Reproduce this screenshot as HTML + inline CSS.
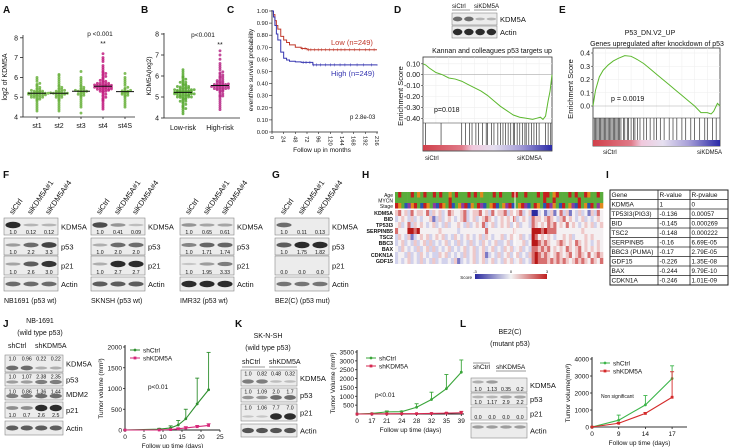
<!DOCTYPE html>
<html><head><meta charset="utf-8">
<style>
html,body{margin:0;padding:0;background:#fff;}
svg{display:block;font-family:"Liberation Sans",Arial,sans-serif;}
</style></head>
<body>
<svg id="fig" width="738" height="448" viewBox="0 0 738 448" xmlns="http://www.w3.org/2000/svg">
<defs>
<linearGradient id="gsea" x1="0" x2="1" y1="0" y2="0">
<stop offset="0" stop-color="#d0404a"/><stop offset="0.3" stop-color="#e07a88"/><stop offset="0.38" stop-color="#f0c8dc"/><stop offset="0.55" stop-color="#e6e0f0"/><stop offset="0.75" stop-color="#a8a0d8"/><stop offset="1" stop-color="#2a2aa8"/>
</linearGradient>
<linearGradient id="score" x1="0" x2="1" y1="0" y2="0">
<stop offset="0" stop-color="#2b2ba0"/><stop offset="0.5" stop-color="#f2f2f2"/><stop offset="1" stop-color="#c02020"/>
</linearGradient>
</defs>
</svg>
<script>
// ---------- DATA ----------
const aCats = ['st1','st2','st3','st4','st4S'];
const aSt1 = [5.2,5.1,5.3,5.0,5.2,5.4,4.9,5.1,5.3,5.2,5.5,4.8,5.6,5.0,5.2,5.1,4.7,5.7,5.3,5.4,4.6,5.8,5.2,5.0,4.9,5.9,4.5,5.1,5.3,6.0,4.4,5.2,5.15,5.25,5.05,5.35,4.95,5.45,4.85,5.55,5.2,5.1,4.3,5.65,5.0,5.12,5.28,5.18];
const aSt2 = [5.2,5.3,5.1,5.0,5.2,5.4,4.9,5.3,5.5,5.2,4.8,5.6,5.1,5.7,4.7,5.2,5.8,4.6,5.3,5.9,4.5,6.0,5.0,5.4,4.4,6.1,4.3,5.2,5.1,5.25,5.35,5.05,4.95,5.45,5.15,6.15,4.85,5.55,5.22,5.18];
const aSt3 = [5.3,5.2,5.4,5.1,5.3,5.5,5.0,5.6,4.9,5.7,5.2,4.8,5.8,5.3,4.7,5.9,5.1,6.0,4.6,6.3,4.2,5.35,5.25,5.45,5.15,4.5,5.4,5.05,5.55,5.3];
const aSt4 = [5.5,5.6,5.4,5.7,5.5,5.3,5.8,5.6,5.2,5.9,5.5,5.4,6.0,5.1,5.6,6.1,5.0,5.7,6.2,4.9,5.5,6.3,4.8,5.6,6.4,4.7,5.4,6.5,4.6,5.8,6.6,4.5,5.3,6.8,4.4,5.55,5.65,5.45,5.75,5.35,5.85,5.25,5.95,5.15,6.05,5.05,6.15,4.95,6.25,4.85,5.5,5.6,5.4,5.7,5.3,6.9,7.0,7.2,5.52,5.58,5.48,5.62,5.42,5.68,5.38];
const aSt4S = [5.2,5.3,5.1,5.25,5.4,5.0,5.5,4.9,5.6,5.2,4.8,5.7,5.3,4.7,5.8,5.1,4.6,5.9,5.35,4.5,6.0,5.15,6.2,5.45,5.05,5.22,5.28,5.32];
const bCats = ['Low-risk','High-risk'];
const bLow = [5.2,5.3,5.1,5.25,5.35,5.15,5.4,5.0,5.45,5.05,5.2,5.3,5.1,5.5,4.9,5.55,4.95,5.6,4.85,5.2,5.3,5.1,5.65,4.8,5.7,4.75,5.2,5.35,5.15,5.25,5.75,4.7,5.8,4.65,5.4,5.0,5.85,4.6,5.9,4.55,5.2,5.3,5.1,5.45,5.05,5.95,4.5,6.0,4.45,5.25,5.35,5.15,6.1,4.4,6.2,4.3,5.22,5.28,5.18,6.3,4.2,5.5,5.0,5.55,4.95,5.24,5.26,5.32,5.12,5.38,5.08,5.42,5.02,5.48,4.98,5.6,4.9,5.7,4.8];
const bHigh = [5.5,5.6,5.4,5.55,5.45,5.65,5.35,5.7,5.3,5.75,5.25,5.5,5.6,5.4,5.8,5.2,5.85,5.15,5.9,5.1,5.5,5.6,5.4,5.95,5.05,6.0,5.0,6.1,4.9,5.55,5.45,6.2,4.8,6.3,4.7,6.4,4.6,6.5,4.5,5.5,5.6,5.4,6.6,4.4,6.8,7.0,7.2,5.52,5.58,5.48,5.62,5.42,5.68,5.38,5.72,5.32,5.78,5.28,6.05,5.95,6.15,5.05];

const kmLowT = [0,3,6,9,12,18,24,30,36,48,60,72,216];
const kmLowS = [1,0.97,0.92,0.88,0.85,0.79,0.76,0.74,0.72,0.70,0.69,0.68,0.68];
const kmHighT = [0,3,6,9,12,18,24,30,36,48,60,84,216];
const kmHighS = [1,0.95,0.88,0.81,0.76,0.66,0.61,0.595,0.585,0.58,0.575,0.555,0.55];
const kmLowCensor = [62,68,75,80,88,95,102,110,118,126,135,142,150,160,170,180,192,200,210];
const kmHighCensor = [64,70,78,85,92,100,110,120,128,140,150,162,175,188,205];
const kmTicks = [0,24,48,72,96,120,144,168,192,216];

const dX = [0,0.02,0.05,0.1,0.15,0.2,0.25,0.3,0.35,0.4,0.45,0.5,0.55,0.6,0.65,0.7,0.75,0.8,0.85,0.88,0.91,0.93,0.95,0.97,0.985,1.0];
const dES = [0.10,0.09,0.06,0.02,0.0,-0.03,-0.04,-0.06,-0.09,-0.12,-0.15,-0.19,-0.24,-0.29,-0.33,-0.37,-0.39,-0.40,-0.41,-0.40,-0.39,-0.41,-0.38,-0.24,-0.15,0.0];
const dHits = [0.02,0.14,0.3,0.33,0.36,0.38,0.41,0.43,0.46,0.49,0.5,0.53,0.55,0.58,0.6,0.62,0.64,0.66,0.68,0.7,0.71,0.73,0.75,0.77,0.79,0.8,0.82,0.84,0.86,0.88,0.9,0.95,0.97,0.99];
const eX = [0,0.02,0.05,0.08,0.12,0.16,0.2,0.25,0.3,0.35,0.4,0.45,0.5,0.55,0.6,0.65,0.7,0.75,0.8,0.85,0.9,0.93,0.95,0.97,0.98,1.0];
const eES = [0,0.12,0.22,0.27,0.31,0.34,0.36,0.38,0.375,0.35,0.32,0.28,0.24,0.2,0.16,0.12,0.08,0.04,0.0,-0.05,-0.05,-0.06,-0.04,0.0,0.02,0.0];
const eHits = [0.01,0.02,0.03,0.04,0.05,0.06,0.07,0.08,0.09,0.1,0.11,0.12,0.13,0.14,0.15,0.16,0.17,0.18,0.19,0.2,0.21,0.22,0.24,0.25,0.27,0.28,0.3,0.32,0.33,0.35,0.37,0.4,0.42,0.45,0.48,0.5,0.53,0.56,0.6,0.63,0.66,0.7,0.73,0.77,0.8,0.84,0.88,0.9,0.94,0.97];

const hmGenes = ['KDM5A','BID','TP53I3','SERPINB5','TSC2','BBC3','BAX','CDKN1A','GDF15'];
const hmRows = [
"4534253443524342354334523445342534452434523400231241352413242314253",
"2343242323341242343234523423454323434352343254434543245343234232343",
"3423524343234232423343242343523423434234233254343545343534323434234",
"5333665633333343333323333333353333333343333366656555333333334333333",
"2432412343423434232432343234243233423433423265343432334342333434333",
"2342324234242323423242324232432342234233342366545433454343543432343",
"3243232423424232342323423423423423243423423255454534343543453434343",
"2332423243232243423232423423412324234234232456545434543453454353454",
"2323423242324232232412323423423423243423423256555454545434545435435"];
const hmAge   = "grgggrgogrggrgrggogrgggrgrgogggrgrgggrrggrgggrgrrgorgggrgrggroggrg";
const hmMycn  = "gggggggggggggggggrgggggggggggggggggggggggggggggrggrgggggggrggggggg";
const hmStage = "rogbporgbrogpbrogrbgoprbogrpbgorbgoprbgorpbgrogbrpogbrgopbrgobrgpo";
const tblHead = ['Gene','R-value','R-pvalue'];
const tblGene = ['KDM5A','TP53I3(PIG3)','BID','TSC2','SERPINB5','BBC3 (PUMA)','GDF15','BAX','CDKN1A'];
const tblR = ['1','-0.136','-0.145','-0.148','-0.16','-0.17','-0.226','-0.244','-0.246'];
const tblP = ['0','0.00057','0.000269','0.000222','6.69E-05','2.79E-05','1.35E-08','9.79E-10','1.01E-09'];

const jDays = [0,9,12,14,16,19,22];
const jCtrl = [0,20,50,120,270,630,970];
const jCtrlErr = [0,40,100,230,500,1250,1870];
const jKd = [0,0,10,30,50,80,110];
const jKdErr = [0,0,20,50,80,110,150];
const kDays = ['0','17','21','24','28','32','35','39'];
const kCtrl = [0,30,120,130,380,820,1430,2360];
const kCtrlErr = [0,50,170,170,580,1230,2230,3050];
const kKd = [0,5,10,15,20,30,50,70];
const kKdErr = [0,10,20,25,30,50,80,150];
const lDays = ['0','9','14','17'];
const lCtrl = [0,400,1300,2850];
const lCtrlErr = [0,700,1850,3600];
const lKd = [0,220,800,1750];
const lKdErr = [0,260,850,3250];

// ---------- HELPERS ----------
const NS='http://www.w3.org/2000/svg';
const svg=document.getElementById('fig');
function mk(tag,a,p,name){
  const e=document.createElementNS(NS,tag);
  for(const k in a) e.setAttribute(k,a[k]);
  
  
  (p||svg).appendChild(e); return e;
}
function T(x,y,s,size,name,o){
  o=o||{};
  const a={x:x,y:y,'font-size':size,fill:o.fill||'#111'};
  if(o.anchor) a['text-anchor']=o.anchor;
  if(o.bold) a['font-weight']='bold';
  if(o.rot!==undefined) a.transform='rotate('+o.rot+' '+x+' '+y+')';
  const e=mk('text',a,o.p,name); e.textContent=s; return e;
}
function L(x1,y1,x2,y2,st,w,name,p){return mk('line',{x1:x1,y1:y1,x2:x2,y2:y2,stroke:st,'stroke-width':w},p,name);}
function R(x,y,w,h,f,name,o){o=o||{};const a={x:x,y:y,width:w,height:h,fill:f};if(o.st){a.stroke=o.st;a['stroke-width']=o.sw||0.6;}return mk('rect',a,o.p,name);}

[['A',3,13],['B',141,13],['C',227,13],['D',394,13],['E',559,13],['F',3,178],['G',272,178],['H',362,178],['I',606,178],['J',3,327],['K',235,327],['L',460,327]].forEach(l=>{
  T(l[1],l[2],l[0],10,'panel-label-'+l[0].toLowerCase(),{bold:true});
});

// ---------- BEESWARM ----------
function swarm(vals,cx,yS,color,name){
  const g=mk('g',{},svg,name);
  const bins={};
  vals.slice().sort((a,b)=>a-b).forEach(v=>{
    const b=Math.round((v-4)/0.07); bins[b]=(bins[b]||0)+1; const k=bins[b]-1;
    const off=(k%2?1:-1)*Math.ceil(k/2)*2.8;
    mk('circle',{cx:cx+off,cy:yS(v),r:1.45,fill:color,'fill-opacity':0.85},g,'data-dot');
  });
  const s=vals.slice().sort((a,b)=>a-b); const med=s[Math.floor(s.length/2)];
  L(cx-9,yS(med),cx+9,yS(med),'#111',1,'median-line',g);
}
const yA=v=>117-(v-4)*19.8;
const xA=i=>37+i*22;
L(23,35,23,117,'#222',0.8,'a-y-axis');L(23,117,135,117,'#222',0.8,'a-x-axis');
[4,5,6,7,8].forEach(v=>{L(20,yA(v),23,yA(v),'#222',0.8,'a-y-tick');T(18,yA(v)+2.5,String(v),7,'a-y-tick-label',{anchor:'end'});});
T(7,77,'log2 of KDM5A',7,'a-y-axis-title',{anchor:'middle',rot:-90});
const aVals=[aSt1,aSt2,aSt3,aSt4,aSt4S];
aCats.forEach((c,i)=>{swarm(aVals[i],xA(i),yA,i===3?'#c21f80':'#6cb33f','a-group-'+c);L(xA(i),117,xA(i),119,'#222',0.8,'a-x-tick');T(xA(i),128,c,7,'a-x-label',{anchor:'middle'});});
T(100,36,'p <0.001',6.5,'a-pvalue',{anchor:'middle'});T(103,46,'**',7,'a-significance',{anchor:'middle'});
const yB=v=>118-(v-4)*21;
const xB=i=>183+i*37;
L(164,33,164,118,'#222',0.8,'b-y-axis');L(164,118,240,118,'#222',0.8,'b-x-axis');
[4,5,6,7,8].forEach(v=>{L(161,yB(v),164,yB(v),'#222',0.8,'b-y-tick');T(159,yB(v)+2.5,String(v),7,'b-y-tick-label',{anchor:'end'});});
T(151,76,'KDM5A(log2)',6.5,'b-y-axis-title',{anchor:'middle',rot:-90});
[bLow,bHigh].forEach((vals,i)=>{swarm(vals,xB(i),yB,i?'#b82c88':'#5aaa34','b-group-'+bCats[i]);T(xB(i),130,bCats[i],7,'b-x-label',{anchor:'middle'});});
T(203,37,'p<0.001',6.5,'b-pvalue',{anchor:'middle'});T(220,47,'**',7,'b-significance',{anchor:'middle'});

// ---------- KM ----------
const xC=m=>272+m*(105/216);
const yC=s=>132-s*121;
L(272,10,272,132,'#222',0.8,'c-y-axis');L(272,132,378,132,'#222',0.8,'c-x-axis');
for(let i=0;i<=10;i++){const v=i/10;L(269,yC(v),272,yC(v),'#222',0.6,'c-y-tick');T(268,yC(v)+2,v.toFixed(2),5.8,'c-y-tick-label',{anchor:'end'});}
kmTicks.forEach(m=>{L(xC(m),132,xC(m),134,'#222',0.6,'c-x-tick');T(xC(m)-2,136,String(m),5.8,'c-x-tick-label',{rot:90});});
T(322,152,'Follow up in months',6.5,'c-x-axis-title',{anchor:'middle'});
T(253,70,'eventfree survival probability',6.5,'c-y-axis-title',{anchor:'middle',rot:-90});
function km(t,s,cens,col,name){
  let d='M'+xC(t[0])+','+yC(s[0]);
  for(let i=1;i<t.length;i++){d+=' H'+xC(t[i])+' V'+yC(s[i]);}
  mk('path',{d:d,fill:'none',stroke:col,'stroke-width':1},svg,name);
  const last=s[s.length-1];
  cens.forEach(c=>{let v=last;for(let i=0;i<t.length;i++){if(t[i]<=c)v=s[i];}L(xC(c),yC(v)-1.5,xC(c),yC(v)+1.5,col,0.5,'censor-mark');});
}
km(kmLowT,kmLowS,kmLowCensor,'#c0392b','km-low-curve');
km(kmHighT,kmHighS,kmHighCensor,'#3535b0','km-high-curve');
T(331,45,'Low (n=249)',7.5,'legend-low',{fill:'#c0392b'});
T(331,76,'High (n=249)',7.5,'legend-high',{fill:'#3535b0'});
T(350,119,'p 2.8e-03',6,'c-pvalue');

// ---------- GSEA ----------
function gsea(cfg){
  const g=mk('g',{},svg,cfg.name);
  R(cfg.x0,cfg.yT,cfg.x1-cfg.x0,cfg.yB-cfg.yT,'#fff',cfg.name+'-box',{st:'#333',sw:0.8,p:g});
  for(let i=1;i<10;i++){L(cfg.x0+i*(cfg.x1-cfg.x0)/10,cfg.yT,cfg.x0+i*(cfg.x1-cfg.x0)/10,cfg.yP,'#eee',0.5,'grid-line',g);}
  cfg.ticks.forEach(v=>{L(cfg.x0,cfg.y(v),cfg.x1,cfg.y(v),v===0?'#aaa':'#eee',0.6,'grid-line',g);L(cfg.x0-2,cfg.y(v),cfg.x0,cfg.y(v),'#333',0.6,'y-tick',g);T(cfg.x0-3,cfg.y(v)+2.5,cfg.fmt(v),7,'y-tick-label',{anchor:'end',p:g});});
  L(cfg.x0,cfg.yP,cfg.x1,cfg.yP,'#333',0.6,'plot-divider',g);
  const xs=f=>cfg.x0+f*(cfg.x1-cfg.x0);
  mk('polyline',{points:cfg.xv.map((f,i)=>xs(f)+','+cfg.y(cfg.es[i])).join(' '),fill:'none',stroke:'#5cb82e','stroke-width':1},g,'enrichment-curve');
  cfg.hits.forEach(h=>L(xs(h),cfg.yP,xs(h),cfg.hB,'#333',0.7,'hit-bar',g));
  R(cfg.x0,cfg.cT,cfg.x1-cfg.x0,cfg.cH,'url(#gsea)','rank-color-bar',{p:g});
  T(cfg.x0-20,(cfg.yT+cfg.yP)/2+6,'Enrichment Score',7.5,'y-axis-title',{anchor:'middle',rot:-90,p:g});
}
gsea({name:'gsea-d',x0:423,x1:552,yT:57,yP:123,yB:151,hB:145,cT:145,cH:5.5,xv:dX,es:dES,hits:dHits,
  y:v=>74.7-v*109,ticks:[0.1,0,-0.1,-0.2,-0.3,-0.4],fmt:v=>v.toFixed(2)});
T(492,53,'Kannan and colleagues p53 targets up',7,'gsea-d-title',{anchor:'middle'});
T(434,112,'p=0.018',7,'gsea-d-pvalue');
T(425,160,'siCtrl',6,'gsea-d-left-label');T(517,160,'siKDM5A',6,'gsea-d-right-label');
gsea({name:'gsea-e',x0:593,x1:720,yT:48,yP:118,yB:146,hB:140,cT:140,cH:6,xv:eX,es:eES,hits:eHits,
  y:v=>106-v*132.5,ticks:[0.4,0.3,0.2,0.1,0],fmt:v=>v.toFixed(1)});
T(650,35,'P53_DN.V2_UP',7,'gsea-e-title',{anchor:'middle'});
T(657,46,'Genes upregulated after knockdown of p53',7,'gsea-e-subtitle',{anchor:'middle'});
T(611,101,'p = 0.0019',7,'gsea-e-pvalue');
T(603,154,'siCtrl',6,'gsea-e-left-label');T(697,154,'siKDM5A',6,'gsea-e-right-label');

// ---------- BLOTS ----------
function blot(cfg){
  const g=mk('g',{},svg,cfg.name);
  const n=cfg.lanes; const w=cfg.x1-cfg.x0;
  cfg.rows.forEach((r,ri)=>{
    R(cfg.x0,r[0],w,r[1]-r[0],'#ececec',r[2]+'-blot-box',{st:'#888',sw:0.6,p:g});
    const inten=cfg.inten[ri];
    for(let l=0;l<n;l++){
      const cx=cfg.x0+w*(l+0.5)/n; const iv=inten[l];
      if(iv>0){mk('ellipse',{cx:cx,cy:cfg.bandY?cfg.bandY(r,ri):(r[0]+r[1])/2-(cfg.nums[ri]?1.5:0),rx:w/n*0.42,ry:1+iv*2.2,fill:'#222','fill-opacity':0.15+iv*0.8},g,'band');}
      if(cfg.nums[ri]) T(cx,cfg.numAbove&&cfg.numAbove[ri]?r[0]+5.5:r[1]-1,cfg.nums[ri][l],5.2,'band-quant',{anchor:'middle',p:g});
    }
    T(cfg.x1+3,(r[0]+r[1])/2+3,r[2],7.5,r[2]+'-label',{p:g});
  });
}
const fRows=[[218,235,'KDM5A'],[238,255,'p53'],[256,275,'p21'],[277,291,'Actin']];
const fBlots=[
 {x:4,lab:'NB1691 (p53 wt)',inten:[[1,0.15,0.15],[0.3,0.6,0.85],[0.25,0.7,0.95],[0.6,0.6,0.6]],nums:[['1.0','0.12','0.12'],['1.0','2.2','3.3'],['1.0','2.6','3.0'],null]},
 {x:91,lab:'SKNSH (p53 wt)',inten:[[0.8,0.35,0.1],[0.2,0.6,0.6],[0.2,1,1],[0.7,0.7,0.7]],nums:[['1.0','0.41','0.09'],['1.0','2.0','2.0'],['1.0','2.7','2.7'],null]},
 {x:180,lab:'IMR32 (p53 wt)',inten:[[0.35,0.25,0.25],[0.45,0.65,0.65],[0.05,0.3,0.5],[1,1,1]],nums:[['1.0','0.65','0.61'],['1.0','1.71','1.74'],['1.0','1.95','3.33'],null]},
 {x:275,lab:'BE2(C) (p53 mut)',inten:[[0.6,0,0],[0.7,1,1],[0,0,0],[0.55,0.55,0.55]],nums:[['1.0','0.11','0.13'],['1.0','1.75','1.82'],['0.0','0.0','0.0'],null]}
];
fBlots.forEach((b,bi)=>{
  blot({name:'western-blot-f'+(bi+1),x0:b.x,x1:b.x+54,lanes:3,rows:fRows,inten:b.inten,nums:b.nums});
  ['siCtrl','siKDM5A#1','siKDM5A#4'].forEach((s,l)=>T(b.x+9+l*18,215,s,7.5,'lane-header',{rot:-55}));
  T(b.x,303,b.lab,7,'cell-line-label');
});
blot({name:'western-blot-d',x0:452,x1:497,lanes:4,rows:[[13,25,'KDM5A'],[26,38,'Actin']],inten:[[0.6,0.6,0.15,0.15],[1,1,1,1]],nums:[null,null]});
T(452,8,'siCtrl',6,'blot-d-header-ctrl');T(474,8,'siKDM5A',6,'blot-d-header-kd');
L(452,10,470,10,'#333',0.6,'header-line');L(474,10,497,10,'#333',0.6,'header-line');

// ---------- HEATMAP ----------
const hmX0=395,hmX1=603;
const colMap={g:'#5aac3c',r:'#c41e1e',o:'#e08a1e',p:'#8a3ca0',b:'#2a55b0'};
const blueRed=['#2b2ba0','#7a7ac6','#d2d2ec','#f4f0f2','#efc8c8','#d87070','#b81818'];
function annot(str,y,h,name,label){
  const g=mk('g',{},svg,name); const cw=(hmX1-hmX0)/str.length;
  for(let i=0;i<str.length;i++) R(hmX0+i*cw,y,cw+0.3,h,colMap[str[i]],'annot-cell',{p:g});
  T(hmX0-2,y+h-0.5,label,5,name+'-label',{anchor:'end'});
}
annot(hmAge,192,5.5,'annotation-age','Age');
annot(hmMycn,197.5,5.5,'annotation-mycn','MYCN');
annot(hmStage,203,5.5,'annotation-stage','Stage');
hmRows.forEach((row,ri)=>{
  const g=mk('g',{},svg,'heatmap-row-'+hmGenes[ri]); const cw=(hmX1-hmX0)/row.length; const y=210+ri*6;
  for(let i=0;i<row.length;i++) R(hmX0+i*cw,y,cw+0.3,6,blueRed[+row[i]],'heatmap-cell',{p:g});
  T(hmX0-2,y+5,hmGenes[ri],5.3,'heatmap-gene-label',{anchor:'end',bold:true});
});
L(515,192,515,264,'#fff',1,'heatmap-split');
R(475,274,72,5,'url(#score)','score-colorbar');
T(472,279,'Score',4.5,'score-label',{anchor:'end'});
T(475,273,'-3',4,'score-min',{anchor:'middle'});T(511,273,'0',4,'score-mid',{anchor:'middle'});T(547,273,'3',4,'score-max',{anchor:'middle'});

// ---------- TABLE ----------
(function(){
  const g=mk('g',{},svg,'correlation-table');
  const x0=610,x1=728,y0=190,rh=9.5,c1=658,c2=690;
  const nr=tblGene.length+1;
  R(x0,y0,x1-x0,rh*nr,'#fff','table-frame',{st:'#222',sw:1,p:g});
  for(let i=1;i<nr;i++) L(x0,y0+i*rh,x1,y0+i*rh,'#222',0.8,'table-row-line',g);
  L(c1,y0,c1,y0+rh*nr,'#222',0.8,'table-col-line',g);L(c2,y0,c2,y0+rh*nr,'#222',0.8,'table-col-line',g);
  tblHead.forEach((h,i)=>T([x0,c1,c2][i]+1.5,y0+7,h,6.5,'table-header',{p:g}));
  tblGene.forEach((gname,i)=>{const y=y0+(i+1)*rh+7;T(x0+1.5,y,gname,6.5,'table-gene',{p:g});T(c1+1.5,y,tblR[i],6.3,'table-r-value',{p:g});T(c2+1.5,y,tblP[i],6.3,'table-p-value',{p:g});});
})();

// ---------- J/K/L blots ----------
blot({name:'western-blot-j',x0:5,x1:63,lanes:4,rows:[[355,372,'KDM5A'],[373,386,'p53'],[388,400,'MDM2'],[402,418,'p21'],[421,435,'Actin']],
  inten:[[0.6,0.6,0.2,0.2],[0.3,0.3,0.5,0.5],[0.5,0.5,0.6,0.6],[0.4,0.4,1,1],[0.7,0.7,0.7,0.7]],
  nums:[['1.0','0.96','0.22','0.22'],['1.0','1.07','2.38','2.35'],['1.0','0.86','1.36','1.44'],['1.0','0.7','2.6','2.5'],null],numAbove:[1,1,1,0,0],
  bandY:(r,ri)=>ri<3?r[1]-4:(ri===3?r[0]+6:(r[0]+r[1])/2)});
T(40,323,'NB-1691',7,'j-title',{anchor:'middle'});T(40,335,'(wild type p53)',7,'j-subtitle',{anchor:'middle'});
T(8,348,'shCtrl',7,'j-header-ctrl');T(35,348,'shKDM5A',7,'j-header-kd');
blot({name:'western-blot-k',x0:241,x1:297,lanes:4,rows:[[370,386,'KDM5A'],[388,402,'p53'],[404,421,'p21'],[424,437,'Actin']],
  inten:[[0.5,0.5,0.1,0.1],[0.35,0.35,0.6,0.6],[0.05,0.05,1,1],[0.75,0.75,0.75,0.75]],
  nums:[['1.0','0.82','0.48','0.32'],['1.0','1.09','2.0','1.7'],['1.0','1.06','7.7','7.0'],null],numAbove:[1,1,1,0],
  bandY:(r,ri)=>ri<3?r[1]-4.5:(r[0]+r[1])/2});
T(268,338,'SK-N-SH',7,'k-title',{anchor:'middle'});T(268,350,'(wild type p53)',7,'k-subtitle',{anchor:'middle'});
T(242,364,'shCtrl',7,'k-header-ctrl');T(269,364,'shKDM5A',7,'k-header-kd');
L(242,367,265,367,'#333',0.6,'header-line');L(269,367,297,367,'#333',0.6,'header-line');
blot({name:'western-blot-l',x0:471,x1:527,lanes:4,rows:[[378,392,'KDM5A'],[393,405,'p53'],[407,420,'p21'],[423,438,'Actin']],
  inten:[[0.2,0.3,0,0],[0.15,0.15,0.25,0.25],[0,0,0,0],[0.3,0.3,0.3,0.3]],
  nums:[['1.0','1.13','0.35','0.2'],['1.0','1.17','2.9','2.2'],['0.0','0.0','0.0','0.0'],null],
  bandY:(r,ri)=>r[0]+4});
T(510,334,'BE2(C)',7,'l-title',{anchor:'middle'});T(510,346,'(mutant p53)',7,'l-subtitle',{anchor:'middle'});
T(473,369,'shCtrl',6.5,'l-header-ctrl');T(496,369,'shKDM5A',6.5,'l-header-kd');
L(473,363,490,363,'#333',0.6,'header-line');L(496,371,526,371,'#333',0.6,'header-line');

// ---------- LINE CHARTS ----------
function lineChart(c){
  const g=mk('g',{},svg,c.name);
  L(c.ax,c.yTop-2,c.ax,c.y0,'#222',1,'y-axis',g);L(c.ax,c.y0,c.axEnd,c.y0,c.xAxisCol||'#222',c.xAxisW||1,'x-axis',g);
  const y=v=>c.y0-v/c.ymax*(c.y0-c.yTop);
  c.yticks.forEach(v=>{L(c.ax-2,y(v),c.ax,y(v),'#222',0.8,'y-tick',g);T(c.ax-3,y(v)+2.5,String(v),6.5,'y-tick-label',{anchor:'end',p:g});});
  c.xticks.forEach((t,i)=>{const x=c.xpos(t,i);L(x,c.y0,x,c.y0+2,'#222',0.8,'x-tick',g);T(x,c.y0+9,String(t),6.5,'x-tick-label',{anchor:'middle',p:g});});
  T((c.ax+c.axEnd)/2,c.y0+18,'Follow up time (days)',6.5,'x-axis-title',{anchor:'middle',p:g});
  T(c.ax-22,(c.y0+c.yTop)/2,c.ytitle,6.5,'y-axis-title',{anchor:'middle',rot:-90,p:g});
  c.series.forEach(s=>{
    const pts=s.vals.map((v,i)=>[c.xpos(c.xs[i],i),y(v)]);
    s.err.forEach((e,i)=>{if(e>s.vals[i]){L(pts[i][0],pts[i][1],pts[i][0],y(e),s.col,0.9,'error-bar',g);L(pts[i][0]-2,y(e),pts[i][0]+2,y(e),s.col,0.9,'error-cap',g);}});
    mk('polyline',{points:pts.map(p=>p.join(',')).join(' '),fill:'none',stroke:s.col,'stroke-width':1.1},g,s.name+'-line');
    pts.forEach(p=>{if(s.sq)R(p[0]-1.4,p[1]-1.4,2.8,2.8,s.col,'marker',{p:g});else mk('circle',{cx:p[0],cy:p[1],r:1.4,fill:s.col},g,'marker');});
  });
  c.legend.forEach((s,i)=>{const ly=c.legY+i*8;L(c.legX,ly,c.legX+10,ly,s.col,1,'legend-swatch',g);
    if(s.sq)R(c.legX+3.6,ly-1.4,2.8,2.8,s.col,'legend-marker',{p:g});else mk('circle',{cx:c.legX+5,cy:ly,r:1.4,fill:s.col},g,'legend-marker');
    T(c.legX+13,ly+2.5,s.name,6.5,'legend-entry',{p:g});});
}
const jSeries=[{name:'shCtrl',vals:jCtrl,err:jCtrlErr,col:'#2f8f2f'},{name:'shKDM5A',vals:jKd,err:jKdErr,col:'#d6287a',sq:1}];
lineChart({name:'tumor-chart-j',ax:125,axEnd:220,y0:430,yTop:347,ymax:2000,yticks:[0,500,1000,1500,2000],
  xticks:[0,5,10,15,20,25],xs:jDays,xpos:(t)=>125+t*(95/25),ytitle:'Tumor volume (mm³)',series:jSeries,legend:jSeries,legX:130,legY:350});
T(148,389,'p<0.01',6.5,'j-pvalue');
const kSeries=[{name:'shCtrl',vals:kCtrl,err:kCtrlErr,col:'#3aa53a'},{name:'shKDM5A',vals:kKd,err:kKdErr,col:'#d62850',sq:1}];
lineChart({name:'tumor-chart-k',ax:357,axEnd:464,y0:414,yTop:352,ymax:3500,yticks:[500,1000,1500,2000,2500,3000,3500],
  xticks:kDays,xs:kDays,xpos:(t,i)=>357+i*14.9,ytitle:'Tumor Volume (mm³)',series:kSeries,legend:kSeries,legX:366,legY:358});
T(375,397,'p<0.01',6.5,'k-pvalue');
const lSeries=[{name:'shCtrl',vals:lCtrl,err:lCtrlErr,col:'#3cb54a'},{name:'shKDM5A',vals:lKd,err:lKdErr,col:'#d42a2a',sq:1}];
lineChart({name:'tumor-chart-l',ax:592,axEnd:687,y0:427,yTop:359,ymax:4000,yticks:[0,1000,2000,3000,4000],
  xticks:lDays,xs:lDays,xpos:(t,i)=>592+i*26.7,ytitle:'Tumor volume(mm³)',series:lSeries,legend:lSeries,legX:600,legY:363,xAxisCol:'#999',xAxisW:2});
T(601,398,'Non significant',5,'l-significance');
</script>
</body></html>
